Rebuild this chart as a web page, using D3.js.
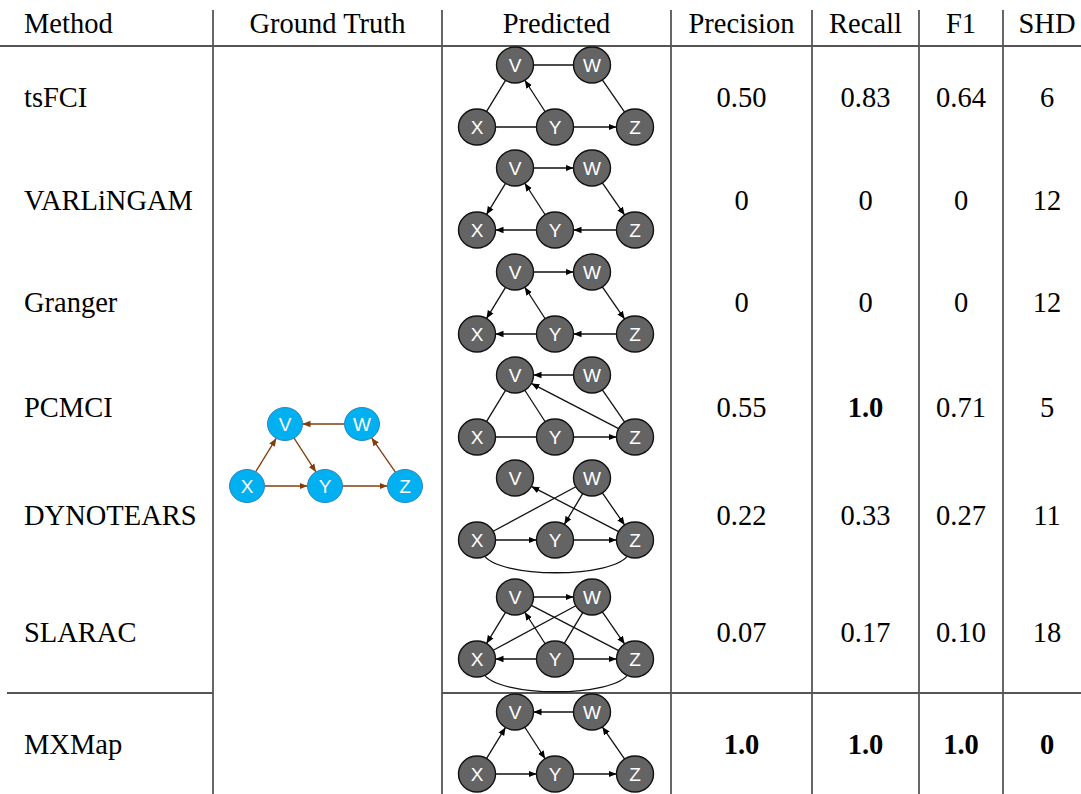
<!DOCTYPE html>
<html>
<head>
<meta charset="utf-8">
<script src="https://cdn.jsdelivr.net/npm/d3@7"></script>
<style>
body { margin: 0; background: #fff; }
</style>
</head>
<body>
<div id="chart"></div>
<script>
// table content
var headers = ["Method", "Ground Truth", "Predicted", "Precision", "Recall", "F1", "SHD"];
var methods = ["tsFCI", "VARLiNGAM", "Granger", "PCMCI", "DYNOTEARS", "SLARAC", "MXMap"];
var precision = ["0.50", "0", "0", "0.55", "0.22", "0.07", "1.0"];
var recall = ["0.83", "0", "0", "1.0", "0.33", "0.17", "1.0"];
var f1 = ["0.64", "0", "0", "0.71", "0.27", "0.10", "1.0"];
var shd = ["6", "12", "12", "5", "11", "18", "0"];
// cells printed in bold: [method, column]
var boldCells = [["PCMCI", "Recall"], ["MXMap", "Precision"], ["MXMap", "Recall"], ["MXMap", "F1"], ["MXMap", "SHD"]];

// graphs: ">" directed, "-" undirected, "arc" undirected curve below
var nodeNames = ["V", "W", "X", "Y", "Z"];
var truthEdges = [["X", "V", ">"], ["V", "Y", ">"], ["X", "Y", ">"], ["Y", "Z", ">"], ["Z", "W", ">"], ["W", "V", ">"]];
var predictedEdges = [
    [["V", "W", "-"], ["X", "V", "-"], ["Y", "V", ">"], ["X", "Y", "-"], ["Y", "Z", ">"], ["W", "Z", "-"]],
    [["V", "W", ">"], ["V", "X", ">"], ["Y", "V", ">"], ["Y", "X", ">"], ["Z", "Y", ">"], ["W", "Z", ">"]],
    [["V", "W", ">"], ["V", "X", ">"], ["Y", "V", ">"], ["Y", "X", ">"], ["Z", "Y", ">"], ["W", "Z", ">"]],
    [["W", "V", ">"], ["X", "V", "-"], ["Y", "V", "-"], ["Z", "V", ">"], ["X", "Y", "-"], ["Y", "Z", ">"], ["W", "Z", "-"]],
    [["Z", "V", ">"], ["W", "X", "-"], ["W", "Y", ">"], ["W", "Z", ">"], ["X", "Y", ">"], ["Y", "Z", ">"], ["X", "Z", "arc"]],
    [["V", "W", ">"], ["V", "X", ">"], ["V", "Z", "-"], ["Y", "V", ">"], ["W", "X", "-"], ["W", "Z", ">"], ["Y", "X", ">"], ["Y", "Z", ">"], ["Y", "W", "-"], ["X", "Z", "arc"]],
    [["W", "V", ">"], ["X", "V", ">"], ["V", "Y", ">"], ["X", "Y", ">"], ["Y", "Z", ">"], ["Z", "W", ">"]]
];

var w = 1081, h = 794;
var serif = "'Times New Roman', Times, 'Liberation Serif', serif";
var colEdges = [0, 213, 442, 671, 812, 919, 1003, 1091];
var headerLine = 46, splitLine = 693;

var svg = d3.select("#chart").append("svg")
    .attr("width", w)
    .attr("height", h)
    .style("display", "block");

var colX = d3.scaleOrdinal()
    .domain(headers)
    .range(headers.map(function(d, i) { return (colEdges[i] + colEdges[i + 1]) / 2; }));

var rowY = d3.scaleOrdinal()
    .domain(methods)
    .range([97, 200, 302, 407, 515, 632, 744]);

// top row of node circles in each predicted graph
var graphTop = d3.scaleOrdinal()
    .domain(methods)
    .range([65, 168, 272, 375, 478, 597, 712]);

// node layout inside a graph, relative to node Y
var nodeX = d3.scaleOrdinal().domain(nodeNames).range([-40, 37, -78, 0, 80]);
var nodeRow = d3.scaleOrdinal().domain(nodeNames).range([0, 0, 1, 1, 1]);
var rowGap = d3.scaleLinear().domain([0, 1]).range([0, 62]);

var defs = svg.append("defs");
function marker(id, color) {
    defs.append("marker")
        .attr("id", id)
        .attr("viewBox", "0 -4 8 8")
        .attr("markerUnits", "userSpaceOnUse")
        .attr("markerWidth", 8)
        .attr("markerHeight", 8)
        .attr("refX", 8)
        .attr("refY", 0)
        .attr("orient", "auto")
        .append("path")
        .attr("d", "M0,-3.3L8,0L0,3.3Z")
        .attr("fill", color);
}
marker("arrowBlack", "#000");
marker("arrowBrown", "#843c0c");

// grid lines
svg.selectAll("line.col").data(colEdges.slice(1, 7))
    .enter().append("line")
    .attr("class", "col")
    .attr("x1", function(d) { return d; })
    .attr("x2", function(d) { return d; })
    .attr("y1", 10)
    .attr("y2", h)
    .attr("stroke", "#000")
    .attr("stroke-width", 1.2);

svg.append("line")
    .attr("x1", 0).attr("x2", w)
    .attr("y1", headerLine).attr("y2", headerLine)
    .attr("stroke", "#555").attr("stroke-width", 2);

[[7, colEdges[1]], [colEdges[2], w]].forEach(function(seg) {
    svg.append("line")
        .attr("x1", seg[0]).attr("x2", seg[1])
        .attr("y1", splitLine).attr("y2", splitLine)
        .attr("stroke", "#555").attr("stroke-width", 2);
});

// header
svg.selectAll("text.header").data(headers)
    .enter().append("text")
    .attr("class", "header")
    .attr("x", function(d, i) { return i === 0 ? 24 : colX(d); })
    .attr("y", 33)
    .attr("text-anchor", function(d, i) { return i === 0 ? "start" : "middle"; })
    .style("font-family", serif)
    .style("font-size", "28.5px")
    .text(function(d) { return d; });

// body text
var metricCols = [["Precision", precision], ["Recall", recall], ["F1", f1], ["SHD", shd]];
function isBold(m, c) {
    return boldCells.some(function(b) { return b[0] === m && b[1] === c; });
}

methods.forEach(function(m, i) {
    svg.append("text")
        .attr("x", 24)
        .attr("y", rowY(m) + 10)
        .style("font-family", serif)
        .style("font-size", "28.5px")
        .text(m);
    metricCols.forEach(function(c) {
        svg.append("text")
            .attr("x", colX(c[0]))
            .attr("y", rowY(m) + 10)
            .attr("text-anchor", "middle")
            .style("font-family", serif)
            .style("font-size", "28.5px")
            .style("font-weight", isBold(m, c[0]) ? "bold" : "normal")
            .text(c[1][i]);
    });
});

// draw one graph with node Y centred at (cx, top + gap)
function drawGraph(cx, top, edges, opts) {
    var g = svg.append("g");
    function pos(n) { return [cx + nodeX(n), top + rowGap(nodeRow(n))]; }

    edges.forEach(function(e) {
        var a = pos(e[0]), b = pos(e[1]);
        if (e[2] === "arc") {
            var y0 = a[1] + opts.ry - 4, c = 39;
            g.append("path")
                .attr("d", "M" + (a[0] + 6) + "," + y0 + " C" + (a[0] + 20) + "," + (a[1] + c) +
                    " " + (b[0] - 20) + "," + (b[1] + c) + " " + (b[0] - 6) + "," + y0)
                .attr("fill", "none")
                .attr("stroke", opts.edge)
                .attr("stroke-width", 1.3);
            return;
        }
        var dx = b[0] - a[0], dy = b[1] - a[1];
        var ang = Math.atan2(dy, dx);
        // distance to ellipse border
        function rad(t) {
            var cs = Math.cos(t), sn = Math.sin(t);
            return 1 / Math.sqrt((cs * cs) / (opts.rx * opts.rx) + (sn * sn) / (opts.ry * opts.ry));
        }
        var r = rad(ang);
        g.append("line")
            .attr("x1", a[0] + Math.cos(ang) * r)
            .attr("y1", a[1] + Math.sin(ang) * r)
            .attr("x2", b[0] - Math.cos(ang) * r)
            .attr("y2", b[1] - Math.sin(ang) * r)
            .attr("stroke", opts.edge)
            .attr("stroke-width", 1.3)
            .attr("marker-end", e[2] === ">" ? "url(#" + opts.marker + ")" : null);
    });

    var nodes = g.selectAll("g.node").data(nodeNames)
        .enter().append("g")
        .attr("transform", function(d) { return "translate(" + pos(d) + ")"; });
    nodes.append("ellipse")
        .attr("rx", opts.rx)
        .attr("ry", opts.ry)
        .attr("fill", opts.fill)
        .attr("stroke", opts.stroke)
        .attr("stroke-width", opts.sw);
    nodes.append("text")
        .attr("y", 7)
        .attr("text-anchor", "middle")
        .attr("fill", "#fff")
        .style("font-family", "'Liberation Sans', Arial, sans-serif")
        .style("font-size", "19px")
        .text(function(d) { return d; });
}

drawGraph(325, 424, truthEdges, {
    rx: 17.5, ry: 16.5, fill: "#00b0f0", stroke: "#2a86c4", sw: 1,
    edge: "#843c0c", marker: "arrowBrown"
});

methods.forEach(function(m, i) {
    drawGraph(555, graphTop(m), predictedEdges[i], {
        rx: 18.5, ry: 18, fill: "#646464", stroke: "#111", sw: 1.4,
        edge: "#111", marker: "arrowBlack"
    });
});
</script>
</body>
</html>
